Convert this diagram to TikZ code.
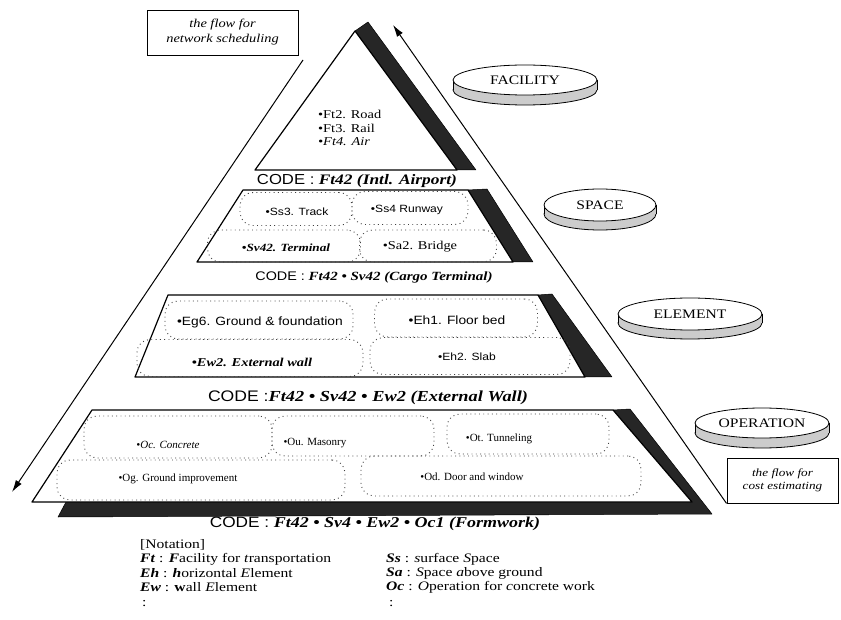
\documentclass[tikz,border=0pt]{standalone}
\usepackage{fontspec}
\setmainfont{Liberation Serif}[FakeStretch=1.2]
\setsansfont{Liberation Sans}[FakeStretch=1.15]
\newfontfamily\plainserif{Liberation Serif}
\usetikzlibrary{arrows.meta}

% font size helper: size and baseline skip
\newcommand{\setsz}[2]{\fontsize{#1}{#2}\selectfont}
% bold italic code values
\newcommand{\codeval}[1]{\textbf{\textit{#1}}}
% a flat disk: name, cx, cy, x radius, y radius, thickness, label
\newcommand{\drawdisk}[7]{%
  \filldraw[diskrim] (#2,#3+#6) ellipse [x radius=#4pt, y radius=#5pt];
  \fill[diskrimfill] (#2-#4,#3) rectangle (#2+#4,#3+#6);
  \draw[line width=0.8pt] (#2-#4,#3) -- (#2-#4,#3+#6) (#2+#4,#3) -- (#2+#4,#3+#6);
  \filldraw[disktop] (#2,#3) ellipse [x radius=#4pt, y radius=#5pt];
  \node[disklabel] (#1) at (#2,#3) {#7};
}

\begin{document}
\begin{tikzpicture}[x=1pt,y=-1pt,
  layer/.style={draw=black, line width=1.2pt, fill=white, line join=round},
  band/.style={fill=black!85, draw=black, line width=0.5pt, line join=round},
  dotbox/.style={draw=black!75, line width=0.9pt, dash pattern=on 0.9pt off 3.4pt,
                 rounded corners=13pt, inner sep=0pt},
  item/.style={inner sep=0pt},
  opitem/.style={inner sep=0pt, font=\plainserif\setsz{11}{12}},
  codetext/.style={inner sep=0pt},
  diskrim/.style={fill=gray!40, draw=black, line width=0.8pt},
  diskrimfill/.style={fill=gray!40},
  disktop/.style={fill=white, draw=black, line width=0.8pt},
  disklabel/.style={font=\setsz{13}{15}, inner sep=0pt},
  flowbox/.style={draw=black, line width=0.9pt, align=center, inner sep=0pt},
  flow/.style={draw=black, line width=1pt, -{Latex[length=12pt,width=7pt]}},
  notetext/.style={font=\setsz{13}{15}, anchor=west, inner sep=0pt},
]
\useasboundingbox (0,0) rectangle (841,620);

% ---------- facility (top triangle) ----------
\filldraw[band] (355,31) -- (368,22) -- (476,170) -- (457,170) -- cycle;
\draw[layer] (355,31) -- (457,170) -- (255,170) -- cycle;
\node[anchor=west, align=left, font=\setsz{12}{13.5}, inner sep=0pt] (facitems)
  at (318,128) {•Ft2. Road\\•Ft3. Rail\\\textit{•Ft4. Air}};
\node[codetext, font=\setsz{14.5}{16}] (code1) at (357,181)
  {\textsf{CODE :} \codeval{Ft42 (Intl. Airport)}};

% ---------- space layer ----------
\filldraw[band] (468,190) -- (487,189) -- (533,262) -- (513,262) -- cycle;
\draw[layer] (243,190) -- (468,190) -- (513,262) -- (197,262) -- cycle;
\node[dotbox, minimum width=112pt, minimum height=33pt] (ssbox) at (296,209) {};
\node[dotbox, minimum width=116pt, minimum height=33pt] (srbox) at (410,208) {};
\node[dotbox, minimum width=153pt, minimum height=32pt] (svbox) at (284,246) {};
\node[dotbox, minimum width=137pt, minimum height=32pt] (sabox) at (428,246) {};
\node[item, font=\sffamily\setsz{10.5}{12}] (ss3) at (297,212) {•Ss3. Track};
\node[item, font=\sffamily\setsz{10.5}{12}] (ss4) at (407,210) {•Ss4 Runway};
\node[item, font=\setsz{11}{12}] (sv42) at (286,248) {\codeval{•Sv42. Terminal}};
\node[item, font=\setsz{12}{13}] (sa2) at (420,247) {•Sa2. Bridge};
\node[codetext, font=\setsz{12.5}{14}] (code2) at (374,277)
  {\textsf{CODE :} \codeval{Ft42 • Sv42 (Cargo Terminal)}};

% ---------- element layer ----------
\filldraw[band] (538,295) -- (552,294) -- (612,377) -- (585,377) -- cycle;
\draw[layer] (168,295) -- (538,295) -- (585,377) -- (135,377) -- cycle;
\node[dotbox, minimum width=188pt, minimum height=38pt] (egbox) at (259,320) {};
\node[dotbox, minimum width=163pt, minimum height=38pt] (ehabox) at (456,318) {};
\node[dotbox, minimum width=226pt, minimum height=37pt] (ewbox) at (250,358) {};
\node[dotbox, minimum width=200pt, minimum height=37pt] (ehbbox) at (470,356) {};
\node[item, font=\sffamily\setsz{12}{13}] (eg6) at (260,322) {•Eg6. Ground \& foundation};
\node[item, font=\sffamily\setsz{12}{13}] (eh1) at (457,320) {•Eh1. Floor bed};
\node[item, font=\setsz{12}{13}] (ew2) at (252,362) {\codeval{•Ew2. External wall}};
\node[item, font=\sffamily\setsz{10.5}{12}] (eh2) at (467,357) {•Eh2. Slab};
\node[codetext, font=\setsz{15.3}{17}] (code3) at (368,398)
  {\textsf{CODE :}\codeval{Ft42 • Sv42 • Ew2 (External Wall)}};

% ---------- operation layer ----------
\filldraw[band] (613,410) -- (630,409) -- (712,514) -- (58,517) -- (66,502) -- (692,502) -- cycle;
\draw[layer] (92,410) -- (613,410) -- (692,502) -- (32,502) -- cycle;
\node[dotbox, minimum width=188pt, minimum height=42pt] (ocbox) at (178,437) {};
\node[dotbox, minimum width=162pt, minimum height=40pt] (oubox) at (353,436) {};
\node[dotbox, minimum width=162pt, minimum height=40pt] (otbox) at (528,434) {};
\node[dotbox, minimum width=288pt, minimum height=40pt] (ogbox) at (201,480) {};
\node[dotbox, minimum width=280pt, minimum height=40pt] (odbox) at (501,476) {};
\node[opitem] (oc) at (168,445) {\textit{•Oc. Concrete}};
\node[opitem] (ou) at (315,443) {•Ou. Masonry};
\node[opitem] (ot) at (499,439) {•Ot. Tunneling};
\node[opitem] (og) at (178,479) {•Og. Ground improvement};
\node[opitem] (od) at (472,477) {•Od. Door and window};
\node[codetext, font=\setsz{15}{17}] (code4) at (375,524)
  {\textsf{CODE :} \codeval{Ft42 • Sv4 • Ew2 • Oc1 (Formwork)}};

% ---------- level disks ----------
\drawdisk{facility}{525}{80}{72}{15}{10}{FACILITY}
\drawdisk{space}{600}{205}{56}{16}{9}{SPACE}
\drawdisk{element}{690}{314}{72}{16}{9}{ELEMENT}
\drawdisk{operation}{762}{423}{67}{15}{10}{OPERATION}

% ---------- flow boxes and arrows ----------
\node[flowbox, minimum width=151pt, minimum height=45pt, font=\itshape\setsz{12}{15}]
  (sched) at (222.5,32.5) {the flow for\\network scheduling};
\node[flowbox, minimum width=111pt, minimum height=45pt, font=\itshape\setsz{11}{12.5}]
  (cost) at (782.5,480.5) {the flow for\\cost estimating};
\coordinate (schedfoot) at (303,60);
\coordinate (schedtip) at (12,492);
\coordinate (costtip) at (393,25);
\draw[flow] (schedfoot) -- (schedtip);
\draw[flow] (cost.south west) -- (costtip);

% ---------- notation ----------
\node[notetext] (nhead) at (140,545) {[Notation]};
\node[notetext] (nft) at (140,559) {\codeval{Ft} : \codeval{F}acility for \textit{t}ransportation};
\node[notetext] (neh) at (140,573) {\codeval{Eh} : \codeval{h}orizontal \textit{E}lement};
\node[notetext] (new) at (140,587) {\codeval{Ew} : \textbf{w}all \textit{E}lement};
\node[notetext] (ndots1) at (142,604) {:};
\node[notetext] (nss) at (386,559) {\codeval{Ss} : \textit{s}urface \textit{S}pace};
\node[notetext] (nsa) at (386,573) {\codeval{Sa} : \textit{S}pace \textit{a}bove ground};
\node[notetext] (noc) at (386,587) {\codeval{Oc} : \textit{O}peration for \textit{c}oncrete work};
\node[notetext] (ndots2) at (389,604) {:};
\end{tikzpicture}
\end{document}
